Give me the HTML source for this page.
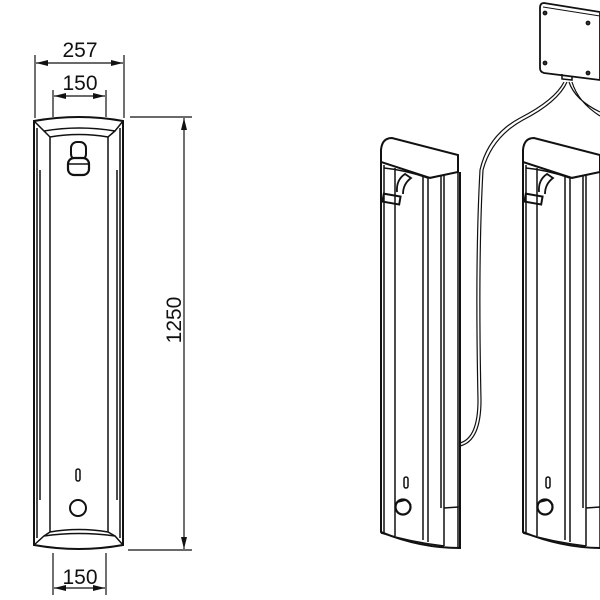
<!DOCTYPE html>
<html><head><style>html,body{margin:0;padding:0;background:#fff;width:600px;height:600px;overflow:hidden}</style></head>
<body>
<svg width="600" height="600" viewBox="0 0 600 600" xmlns="http://www.w3.org/2000/svg" font-family="Liberation Sans, sans-serif">
<defs>
<marker id="a" viewBox="0 0 12 6" refX="12" refY="3" markerWidth="12" markerHeight="6" orient="auto-start-reverse" markerUnits="userSpaceOnUse"><path d="M0,0 L12,3 L0,6z" fill="#111"/></marker>
</defs>
<g stroke="#111" fill="none" stroke-width="1.2">
<!-- dimensions -->
<line x1="35" y1="55" x2="35" y2="118"/><line x1="124" y1="55" x2="124" y2="118"/>
<line x1="36" y1="63" x2="123" y2="63" marker-start="url(#a)" marker-end="url(#a)"/>
<line x1="53" y1="90" x2="53" y2="117"/><line x1="106" y1="90" x2="106" y2="117"/>
<line x1="54" y1="96" x2="105" y2="96" marker-start="url(#a)" marker-end="url(#a)"/>
<line x1="130" y1="117" x2="192" y2="117"/><line x1="128" y1="550" x2="192" y2="550"/>
<line x1="184" y1="118" x2="184" y2="549" marker-start="url(#a)" marker-end="url(#a)"/>
<line x1="53" y1="553" x2="53" y2="595"/><line x1="106" y1="553" x2="106" y2="595"/>
<line x1="54" y1="588" x2="105" y2="588" marker-start="url(#a)" marker-end="url(#a)"/>
<!-- left panel -->
<path d="M34,121 Q79,113 123,121 L123,545 Q79,553 34,545 Z" stroke-width="2"/>
<path d="M34,121 L44,131 Q79,125 115,131 L123,121" stroke-width="1.5"/>
<path d="M44,131 L50,137 Q79,132 108,137 L115,131" stroke-width="1.5"/>
<path d="M50,137 L50,532 M108,137 L108,532" stroke-width="1.5"/>
<path d="M37,128 L37,538 M120,128 L120,538 M40,170 L40,500 M117,170 L117,500" stroke-width="1.5"/>
<path d="M34,545 L44,536 Q79,531 115,536 L123,545" stroke-width="1.5"/>
<path d="M44,536 L50,532 Q79,527 108,532 L115,536" stroke-width="1.5"/>
<rect x="71" y="142" width="15" height="18" rx="6" stroke-width="2"/>
<rect x="68" y="158" width="21" height="17" rx="6" stroke-width="2.2" fill="#fff"/>
<line x1="69" y1="164" x2="88" y2="164" stroke-width="1.5"/>
<rect x="76" y="469" width="4" height="12" rx="2" stroke-width="1.5"/>
<circle cx="78" cy="508" r="8" stroke-width="2"/>
<!-- right panel 1 -->
<g id="p" stroke-width="1.5">
<path d="M381,150 Q382,138 392,138 L458,155 L458,172 L430,178 L381,162 Z" stroke-width="2"/>
<path d="M381,162 L381,532 Q420,548 460,548 L460,172" stroke-width="2"/>
<path d="M384,165 L384,533 M395,168 L395,536 M423,175 L423,540 M428,178 L428,542 M441,175 L441,508 M444,174 L444,508 M458,172 L458,508"/>
<path d="M444,508 L458,507 L458,548 M444,508 L444,546"/>
<path d="M381,533 Q410,542 444,546"/>
<path d="M384,168 Q405,170 428,178 M428,178 L458,172"/>
<path d="M397,192 Q396,180 405,174 L411,178 Q403,184 403,194" stroke-width="1.8"/>
<rect x="383" y="195" width="17" height="8" transform="rotate(10 391 199)" stroke-width="2"/>
<rect x="404" y="477" width="4" height="11" rx="2"/>
<circle cx="403" cy="507" r="7.5" stroke-width="2.2"/>
<path d="M398,502 L406,500 L411,505"/>
</g>
<use href="#p" x="142" y="0"/>
<!-- box -->
<path d="M544,3 L600,12 L600,80 L544,73 Q540,72 540,68 L540,8 Q540,3 544,3 Z" stroke-width="1.8"/>
<path d="M543,7 L600,16" stroke-width="1"/>
<circle cx="545" cy="13" r="1.8" fill="#333"/><circle cx="588" cy="23" r="1.8" fill="#333"/>
<circle cx="545" cy="63" r="1.8" fill="#333"/><circle cx="588" cy="73" r="1.8" fill="#333"/>
<path d="M562,74 L562,79 L572,80 L572,76" stroke-width="1.5"/>
<path d="M564,82 Q555,100 520,118 Q488,135 480,170 Q475,260 478,400 Q478,438 460,443"/>
<path d="M567,82 Q558,102 523,120 Q492,137 483,170 Q478,260 481,400 Q481,441 460,446"/>
<path d="M569,82 Q575,100 600,112 M572,82 Q578,102 600,116"/>
</g>
<g fill="#111" font-size="21" text-anchor="middle">
<text x="80" y="57">257</text>
<text x="80" y="90">150</text>
<text x="80" y="584">150</text>
<text transform="translate(181,320) rotate(-90)">1250</text>
</g>
</svg>
</body></html>
